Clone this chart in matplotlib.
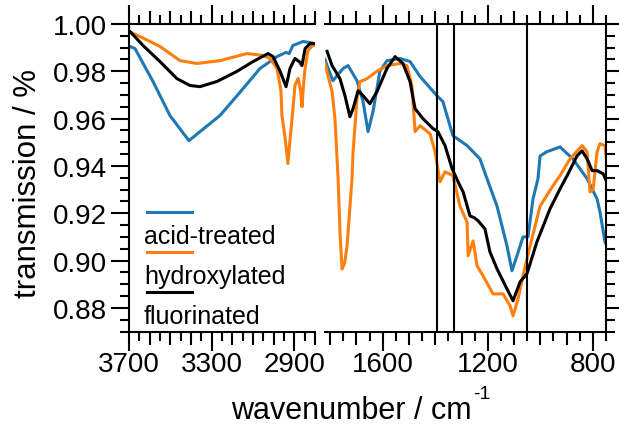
import matplotlib
matplotlib.use("Agg")
import matplotlib.pyplot as plt
from matplotlib.ticker import MultipleLocator, FixedLocator, FuncFormatter

plt.rcParams["font.family"] = ["Liberation Sans", "DejaVu Sans"]

# ---------------- spectra: high-wavenumber window (3700-2800 cm-1) ----------------
acid_hi_wn = [3700, 3695, 3671, 3584, 3502, 3410, 3260, 3177, 3066, 2984, 2940,
              2925, 2907, 2858, 2815, 2800]
acid_hi_T = [0.9900, 0.9905, 0.9896, 0.9757, 0.9613, 0.9507, 0.9613, 0.9697, 0.9812,
             0.9862, 0.9880, 0.9875, 0.9909, 0.9926, 0.9920, 0.9915]

hydr_hi_wn = [3700, 3647, 3550, 3453, 3371, 3260, 3129, 3052, 3018, 2984, 2965, 2960,
              2945, 2931, 2922, 2911, 2897, 2882, 2870, 2863, 2855, 2848, 2834, 2810,
              2800]
hydr_hi_T = [0.9968, 0.9947, 0.9905, 0.9845, 0.9833, 0.9845, 0.9875, 0.9867, 0.9854,
             0.9812, 0.9720, 0.9613, 0.9520, 0.9410, 0.9500, 0.9600, 0.9740, 0.9770,
             0.9720, 0.9650, 0.9750, 0.9812, 0.9888, 0.9910, 0.9910]

fluo_hi_wn = [3700, 3695, 3632, 3550, 3468, 3405, 3357, 3274, 3177, 3100, 3027, 3003,
              2969, 2940, 2921, 2897, 2875, 2863, 2848, 2824, 2800]
fluo_hi_T = [0.9970, 0.9968, 0.9909, 0.9841, 0.9769, 0.9740, 0.9735, 0.9757, 0.9800,
             0.9841, 0.9875, 0.9862, 0.9800, 0.9735, 0.9812, 0.9854, 0.9840, 0.9824,
             0.9896, 0.9917, 0.9917]

# ---------------- spectra: fingerprint window (1820-750 cm-1) ----------------
acid_lo_wn = [1820, 1812, 1790, 1751, 1732, 1698, 1675, 1656, 1637, 1611, 1584, 1534,
              1496, 1458, 1394, 1371, 1333, 1279, 1230, 1203, 1165, 1127, 1108, 1089,
              1066, 1047, 1028, 1009, 1001, 975, 925, 876, 822, 784, 773, 754, 750]
acid_lo_T = [0.9850, 0.9824, 0.9760, 0.9812, 0.9824, 0.9760, 0.9672, 0.9545, 0.9630,
             0.9800, 0.9845, 0.9854, 0.9841, 0.9778, 0.9697, 0.9672, 0.9528, 0.9486,
             0.9430, 0.9346, 0.9230, 0.9062, 0.8957, 0.9020, 0.9100, 0.9100, 0.9260,
             0.9346, 0.9442, 0.9460, 0.9480, 0.9430, 0.9346, 0.9260, 0.9206, 0.9079,
             0.9070]

hydr_lo_wn = [1820, 1793, 1782, 1770, 1762, 1755, 1745, 1736, 1717, 1713, 1698, 1687,
              1660, 1622, 1584, 1534, 1508, 1489, 1477, 1458, 1420, 1401, 1382, 1363,
              1333, 1306, 1279, 1275, 1256, 1241, 1218, 1180, 1142, 1115, 1104, 1085,
              1066, 1039, 1001, 952, 925, 887, 841, 822, 811, 799, 784, 773, 754, 750]
hydr_lo_T = [0.9833, 0.9714, 0.9600, 0.9346, 0.9100, 0.8964, 0.8990, 0.9062, 0.9346,
             0.9460, 0.9685, 0.9756, 0.9769, 0.9800, 0.9824, 0.9833, 0.9824, 0.9740,
             0.9545, 0.9570, 0.9536, 0.9460, 0.9333, 0.9375, 0.9359, 0.9230, 0.9163,
             0.9020, 0.9083, 0.8978, 0.8935, 0.8859, 0.8859, 0.8808, 0.8766, 0.8838,
             0.8935, 0.9062, 0.9230, 0.9316, 0.9359, 0.9430, 0.9486, 0.9460, 0.9290,
             0.9300, 0.9460, 0.9494, 0.9486, 0.9440]

fluo_lo_wn = [1812, 1793, 1763, 1744, 1725, 1713, 1694, 1675, 1649, 1622, 1584, 1553,
              1523, 1496, 1477, 1447, 1409, 1390, 1363, 1336, 1306, 1294, 1268, 1250,
              1237, 1211, 1192, 1165, 1127, 1104, 1077, 1051, 1013, 963, 925, 898, 860,
              841, 822, 803, 784, 761, 750]
fluo_lo_T = [0.9884, 0.9824, 0.9769, 0.9697, 0.9608, 0.9642, 0.9718, 0.9697, 0.9663,
             0.9714, 0.9812, 0.9862, 0.9833, 0.9756, 0.9642, 0.9600, 0.9558, 0.9545,
             0.9486, 0.9388, 0.9316, 0.9290, 0.9189, 0.9180, 0.9168, 0.9134, 0.9037,
             0.8965, 0.8880, 0.8830, 0.8910, 0.8944, 0.9079, 0.9219, 0.9303, 0.9359,
             0.9443, 0.9464, 0.9430, 0.9380, 0.9380, 0.9367, 0.9340]

series_names = ["acid-treated", "hydroxylated", "fluorinated"]
series_colors = ["#1f77b4", "#ff7f0e", "#000000"]

marker_lines = [1395, 1330, 1050]

hi_range = (3700, 2800)
lo_range = (1820, 750)
y_range = (0.8698, 1.0)
y_ticks = [0.88, 0.90, 0.92, 0.94, 0.96, 0.98, 1.00]
hi_labels = [3700, 3300, 2900]
lo_labels = [1600, 1200, 800]

LW = 1.5
fig = plt.figure(figsize=(6.19, 4.39), dpi=100)
ax_hi = fig.add_axes([0.2084, 0.2415, 0.3005, 0.7016])
ax_lo = fig.add_axes([0.5250, 0.2415, 0.4540, 0.7016])

hi_data = [(acid_hi_wn, acid_hi_T), (hydr_hi_wn, hydr_hi_T), (fluo_hi_wn, fluo_hi_T)]
lo_data = [(acid_lo_wn, acid_lo_T), (hydr_lo_wn, hydr_lo_T), (fluo_lo_wn, fluo_lo_T)]

for (x, y), c in zip(hi_data, series_colors):
    ax_hi.plot(x, y, color=c, lw=2.2, solid_joinstyle="round")
for (x, y), c in zip(lo_data, series_colors):
    ax_lo.plot(x, y, color=c, lw=2.2, solid_joinstyle="round")
for xv in marker_lines:
    ax_lo.axvline(xv, color="black", lw=LW)


def style_axis(ax, xlim, labels, side):
    ax.set_xlim(*xlim)
    ax.set_ylim(*y_range)
    for s in ax.spines.values():
        s.set_linewidth(LW)
    if side == "left":
        ax.spines["right"].set_visible(False)
    else:
        ax.spines["left"].set_visible(False)

    ax.xaxis.set_major_locator(MultipleLocator(100))
    ax.xaxis.set_minor_locator(MultipleLocator(50))
    ax.xaxis.set_major_formatter(
        FuncFormatter(lambda v, p: f"{int(round(v))}" if int(round(v)) in labels else ""))
    ax.tick_params(axis="x", which="major", direction="out", length=9.5, width=LW,
                   top=True, bottom=True, labelsize=20, pad=4)
    ax.tick_params(axis="x", which="minor", direction="out", length=6.5, width=LW,
                   top=True, bottom=True)

    ax.yaxis.set_major_locator(FixedLocator(y_ticks))
    ax.yaxis.set_minor_locator(MultipleLocator(0.005))
    if side == "left":
        ax.yaxis.set_major_formatter(FuncFormatter(lambda v, p: f"{v:.2f}"))
        ax.tick_params(axis="y", which="both", direction="out", left=True, right=False,
                       width=LW, labelsize=20, pad=3)
    else:
        ax.tick_params(axis="y", which="both", direction="out", left=False, right=True,
                       labelleft=False, width=LW)
    ax.tick_params(axis="y", which="major", length=13)
    ax.tick_params(axis="y", which="minor", length=6.5)

    # longer ticks at the labelled wavenumbers
    fig.canvas.draw()
    locs = ax.xaxis.get_majorticklocs()
    for t, loc in zip(ax.xaxis.get_major_ticks(), locs):
        if int(round(loc)) in labels:
            t.tick1line.set_markersize(14)
            t.tick2line.set_markersize(14)


style_axis(ax_hi, hi_range, hi_labels, "left")
style_axis(ax_lo, lo_range, lo_labels, "right")

# legend: key line above each label
for i, (name, c) in enumerate(zip(series_names, series_colors)):
    yk = 0.39 - 0.13 * i
    ax_hi.plot([0.097, 0.339], [yk, yk], color=c, lw=2.2, transform=ax_hi.transAxes,
               clip_on=False)
    ax_hi.text(0.081, yk - 0.078, name, transform=ax_hi.transAxes, fontsize=18,
               ha="left", va="center")

fig.text(0.567, 0.045, "wavenumber / cm", ha="center", va="baseline", fontsize=22)
fig.text(0.764, 0.120, "-1", ha="left", va="top", fontsize=14)
fig.text(0.045, 0.583, "transmission / %", rotation=90, ha="center", va="center",
         fontsize=22.5)

fig.savefig("out.png", dpi=100)
